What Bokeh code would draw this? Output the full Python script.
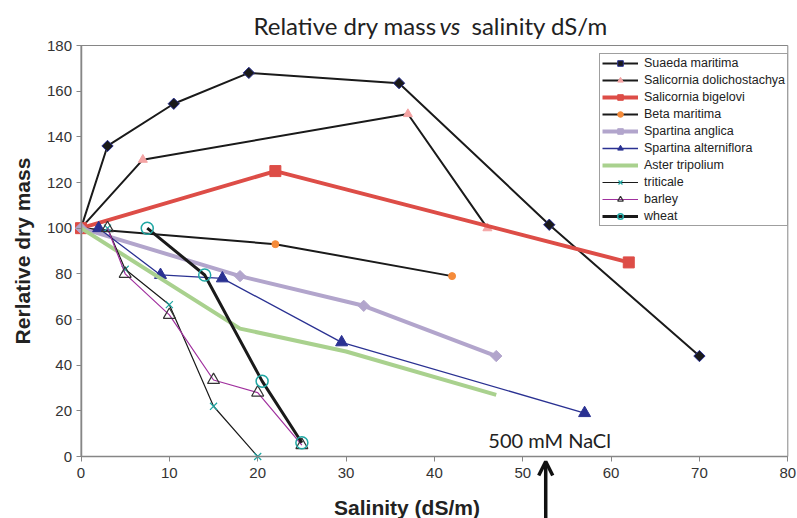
import math
from bokeh.plotting import figure
from bokeh.models import (Range1d, Label, Arrow, OpenHead, Legend, LegendItem,
                          FixedTicker)
from bokeh.embed import file_html
from bokeh.resources import INLINE

# ---- data ----
suaeda_x = [0, 3, 10.5, 19, 36, 53, 70]
suaeda_y = [100, 136, 154.5, 168, 163.5, 101.5, 44]
sdol_x = [0, 7, 37, 46]
sdol_y = [100, 130, 150, 100]
sbig_x = [0, 22, 62]
sbig_y = [100, 125, 85]
beta_x = [0, 22, 42]
beta_y = [100, 93, 79]
sang_x = [0, 18, 32, 47]
sang_y = [100, 79, 66, 44]
salt_x = [2, 9, 16, 29.5, 57]
salt_y = [100, 79.5, 78, 50, 19]
aster_x = [0, 18, 30, 47]
aster_y = [100, 56, 46, 27]
trit_x = [3, 5, 10, 15, 20]
trit_y = [100, 82, 66.5, 22, 0]
barley_x = [3, 5, 10, 15, 20, 25]
barley_y = [100, 80, 62, 33.5, 28, 5]
wheat_x = [7.5, 14, 20.5, 25]
wheat_y = [100, 79.5, 33, 6]

x_ticks = [0, 10, 20, 30, 40, 50, 60, 70, 80]
y_ticks = [0, 20, 40, 60, 80, 100, 120, 140, 160, 180]

title_parts = ["Relative dry mass", "vs", "salinity dS/m"]
x_label = "Salinity (dS/m)"
y_label = "Rerlative dry mass"
note = "500 mM NaCl"
arrow_x = 52.6

# axis extent and the page margins (px) around the plotting area
X0, X1, Y0, Y1 = 0, 80, 0, 180
W, H = 797, 518
M_LEFT, M_RIGHT, M_TOP, M_BOTTOM = 80.5, 9.7, 45, 62
px_x = (W - M_LEFT - M_RIGHT) / (X1 - X0)
px_y = (H - M_TOP - M_BOTTOM) / (Y1 - Y0)
xr = Range1d(X0 - M_LEFT / px_x, X1 + M_RIGHT / px_x)
yr = Range1d(Y0 - M_BOTTOM / px_y, Y1 + M_TOP / px_y)

p = figure(width=W, height=H, output_backend="svg", toolbar_location=None,
           x_range=xr, y_range=yr)
p.min_border = 0
p.min_border_left = 0
p.min_border_right = 0
p.min_border_top = 0
p.min_border_bottom = 0
p.xgrid.visible = False
p.ygrid.visible = False
p.outline_line_color = None
p.background_fill_color = "white"
p.border_fill_color = "white"

# plot-area box
p.quad(left=[X0], right=[X1], bottom=[Y0], top=[Y1], fill_color=None,
       line_color="#868686", line_width=1)

for ax in (p.xaxis[0], p.yaxis[0]):
    ax.fixed_location = 0
    ax.axis_line_color = "#868686"
    ax.axis_line_width = 1.5
    ax.major_tick_line_color = "#868686"
    ax.major_tick_out = 5
    ax.major_tick_in = 0
    ax.minor_tick_out = 0
    ax.minor_tick_in = 0
    ax.major_label_text_font = "Liberation Sans"
    ax.major_label_text_font_size = "15px"
    ax.major_label_text_color = "#333333"
p.xaxis[0].bounds = (X0, X1)
p.yaxis[0].bounds = (Y0, Y1)
p.xaxis[0].ticker = FixedTicker(ticks=x_ticks)
p.yaxis[0].ticker = FixedTicker(ticks=y_ticks)
p.xaxis[0].major_label_standoff = 6
p.yaxis[0].major_label_standoff = 4
p.yaxis[0].axis_label = y_label
p.yaxis[0].axis_label_text_font = "Liberation Sans"
p.yaxis[0].axis_label_text_font_style = "bold"
p.yaxis[0].axis_label_text_font_size = "21px"
p.yaxis[0].axis_label_text_color = "#222222"
p.yaxis[0].axis_label_standoff = 10

items = []

def series(name, xs, ys, lcolor, lwidth, marker=None, msize=0, mfill=None,
           mline=None, malpha=1.0, angle=0.0, mlw=1.0):
    rs = [p.line(xs, ys, line_color=lcolor, line_width=lwidth)]
    if marker:
        rs.append(p.scatter(xs, ys, marker=marker, size=msize, fill_color=mfill,
                            fill_alpha=malpha, line_color=mline, line_width=mlw,
                            angle=angle))
    items.append(LegendItem(label=name, renderers=rs))

navy = "#2A3192"
series("Suaeda maritima", suaeda_x, suaeda_y, "#1a1a1a", 2, "square", 8,
       "#1a1a1a", navy, angle=math.pi / 4)
series("Salicornia dolichostachya", sdol_x, sdol_y, "#1a1a1a", 2, "triangle", 9,
       "#F4A4A4", "#F4A4A4")
series("Salicornia bigelovi", sbig_x, sbig_y, "#DD4D47", 4, "square", 11,
       "#DD4D47", "#DD4D47")
series("Beta maritima", beta_x, beta_y, "#1a1a1a", 2, "circle", 7,
       "#F58B3A", "#F58B3A")
series("Spartina anglica", sang_x, sang_y, "#B2A5CC", 4, "square", 8,
       "#B2A5CC", "#B2A5CC", angle=math.pi / 4)
series("Spartina alterniflora", salt_x, salt_y, navy, 1.3, "triangle", 12,
       navy, navy)
series("Aster tripolium", aster_x, aster_y, "#A9D18E", 4)
series("triticale", trit_x, trit_y, "#1a1a1a", 1.2, "x", 10,
       None, "#1FA7A3", mlw=1.2)
series("barley", barley_x, barley_y, "#A0309E", 1.2, "triangle", 12,
       "white", "#333333", malpha=0.0, mlw=1.2)
series("wheat", wheat_x, wheat_y, "#1a1a1a", 3, "circle", 12,
       "white", "#1FA7A3", malpha=0.0, mlw=1.5)

legend = Legend(items=items, location=(599, 292))
legend.label_text_font = "Liberation Sans"
legend.label_text_font_size = "12.5px"
legend.label_text_color = "#222222"
legend.glyph_width = 36
legend.glyph_height = 14
legend.label_height = 14
legend.label_standoff = 6
legend.spacing = 3
legend.padding = 2
legend.margin = 0
legend.border_line_color = "#404040"
legend.border_line_width = 1
legend.background_fill_color = "white"
legend.background_fill_alpha = 1.0
p.add_layout(legend, "center")

# title in three pieces (italic "vs")
ty = Y1 + 20 / px_y
for txt, px_left, style in [(title_parts[0], 253, "normal"),
                            (title_parts[1], 439, "italic"),
                            (title_parts[2], 471, "normal")]:
    p.add_layout(Label(x=X0 + (px_left - M_LEFT) / px_x, y=ty, text=txt,
                       text_align="left", text_baseline="alphabetic",
                       text_font="Lato", text_font_size="24px",
                       text_font_style=style, text_color="#222222"))

# x axis label
p.add_layout(Label(x=36.9, y=-22.3, text=x_label, text_align="center",
                   text_baseline="middle", text_font="Liberation Sans",
                   text_font_style="bold", text_font_size="21px",
                   text_color="#222222"))

# annotation text and arrow
p.add_layout(Label(x=46.1, y=4.8 + 6 / px_y, text=note, text_align="left",
                   text_baseline="alphabetic", text_font="Lato",
                   text_font_size="20px", text_color="#222222"))
p.add_layout(Arrow(end=OpenHead(size=14, line_width=3.5, line_color="#111111"),
                   x_start=arrow_x, y_start=Y0 - 30, x_end=arrow_x, y_end=-2.2,
                   line_width=3.5, line_color="#111111"))

open("out.html", "w").write(file_html(p, INLINE))
